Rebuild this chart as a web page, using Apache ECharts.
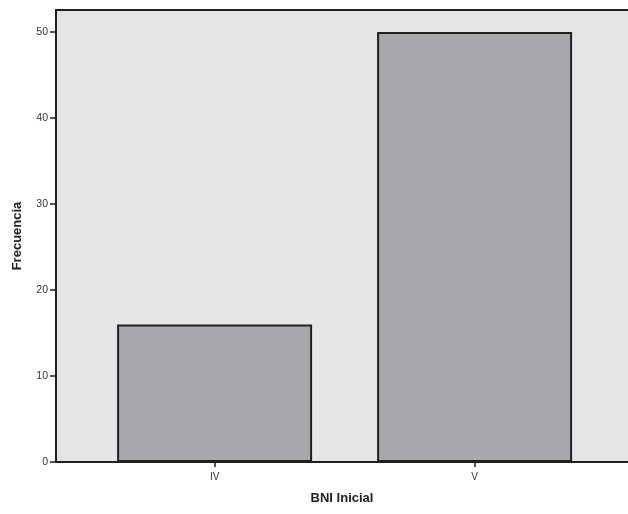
<!DOCTYPE html>
<html>
<head>
<meta charset="utf-8">
<script src="https://cdn.jsdelivr.net/npm/echarts@6/dist/echarts.min.js"></script>
<style>html,body{margin:0;padding:0;background:#fff}#c{width:628px;height:514px}</style>
</head>
<body>
<div id="c"></div>
<script>
var categories = ['IV', 'V'];
var frecuencia = [16, 50];
var yTicks = [0, 10, 20, 30, 40, 50];
var xTitle = 'BNI Inicial';
var yTitle = 'Frecuencia';

var catIdx = categories.map(function (c, i) { return i; });
var chart = echarts.init(document.getElementById('c'), null, {renderer: 'canvas'});
var font = 'Liberation Sans, Arial, sans-serif';
chart.setOption({
  animation: false,
  backgroundColor: '#ffffff',
  grid: {left: 56, right: 0, top: 10, bottom: 52, show: true, backgroundColor: '#e4e5e7', borderWidth: 0},
  xAxis: [{
    type: 'value', min: -0.61, max: 1.59,
    splitLine: {show: false},
    axisLine: {show: true, onZero: false, lineStyle: {color: '#231f20', width: 2}},
    axisTick: {show: true, inside: false, length: 5, customValues: catIdx, lineStyle: {color: '#231f20', width: 1.5}},
    axisLabel: {customValues: catIdx, color: '#333', fontSize: 10, fontFamily: font, margin: 10,
      formatter: function (v) { return categories[Math.round(v)]; }},
    name: xTitle, nameLocation: 'middle', nameGap: 30,
    nameTextStyle: {fontSize: 13, fontWeight: 'bold', color: '#222', fontFamily: font}
  }, {
    type: 'value', position: 'top', min: 0, max: 1,
    splitLine: {show: false}, axisTick: {show: false}, axisLabel: {show: false},
    axisLine: {show: true, onZero: false, lineStyle: {color: '#231f20', width: 2}}
  }],
  yAxis: {
    type: 'value', min: 0, max: 52.56,
    splitLine: {show: false},
    axisLine: {show: true, onZero: false, lineStyle: {color: '#231f20', width: 2}},
    axisTick: {show: true, inside: false, length: 6, customValues: yTicks, lineStyle: {color: '#231f20', width: 1.5}},
    axisLabel: {customValues: yTicks, color: '#333', fontSize: 10.5, fontFamily: font, margin: 8},
    name: yTitle, nameLocation: 'middle', nameGap: 32, nameRotate: 90,
    nameTextStyle: {fontSize: 13, fontWeight: 'bold', color: '#222', fontFamily: font}
  },
  series: [{
    type: 'bar', xAxisIndex: 0,
    data: frecuencia.map(function (v, i) { return [i, v]; }),
    barWidth: 195,
    itemStyle: {color: '#a7a8ab', borderColor: '#231f20', borderWidth: 2}
  }]
});
</script>
</body>
</html>
